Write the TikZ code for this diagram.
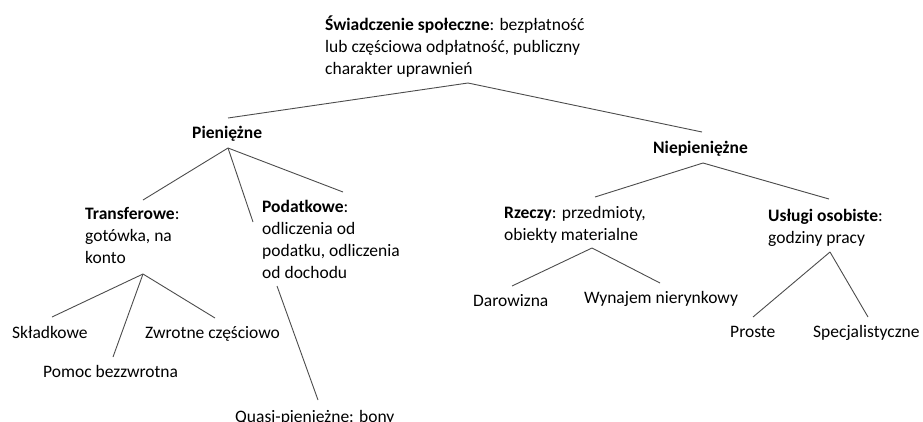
\documentclass[tikz,border=0pt]{standalone}
\usepackage{fontspec}
\setmainfont{Carlito}
\begin{document}
\begin{tikzpicture}[x=1pt,y=-1pt,
  txt/.style={inner sep=0pt, anchor=base west, font=\fontsize{17.5}{22}\selectfont},
  link/.style={draw=black!70, line width=0.9pt}]
\useasboundingbox (0,0) rectangle (923,421);

% nodes
\node[txt] (root) at (325,30) {\begin{tabular}[t]{@{}l@{}}\textbf{Świadczenie społeczne}: bezpłatność\\ lub częściowa odpłatność, publiczny\\ charakter uprawnień\end{tabular}};
\node[txt] (pien) at (192,138) {\textbf{Pieniężne}};
\node[txt] (niep) at (653,153) {\textbf{Niepieniężne}};
\node[txt] (trans) at (85,219) {\begin{tabular}[t]{@{}l@{}}\textbf{Transferowe}:\\ gotówka, na\\ konto\end{tabular}};
\node[txt] (podat) at (262,212) {\begin{tabular}[t]{@{}l@{}}\textbf{Podatkowe}:\\ odliczenia od\\ podatku, odliczenia\\ od dochodu\end{tabular}};
\node[txt] (skl) at (12,338) {Składkowe};
\node[txt] (zwr) at (145,338) {Zwrotne częściowo};
\node[txt] (pom) at (43,377) {Pomoc bezzwrotna};
\node[txt] (quasi) at (235,422) {Quasi-pieniężne: bony};
\node[txt] (rzecz) at (504,218) {\begin{tabular}[t]{@{}l@{}}\textbf{Rzeczy}: przedmioty,\\ obiekty materialne\end{tabular}};
\node[txt] (uslugi) at (768,221) {\begin{tabular}[t]{@{}l@{}}\textbf{Usługi osobiste}:\\ godziny pracy\end{tabular}};
\node[txt] (dar) at (473,306) {Darowizna};
\node[txt] (wyn) at (584,303) {Wynajem nierynkowy};
\node[txt] (pro) at (730,337) {Proste};
\node[txt] (spec) at (813,337) {Specjalistyczne};

% connector end points
\coordinate (rootA) at (468,83);
\coordinate (pienT) at (228,118);
\coordinate (niepT) at (702,132);
\coordinate (pienA) at (228,148);
\coordinate (transT) at (143,200);
\coordinate (podatT) at (253,222);
\coordinate (podatR) at (343,192);
\coordinate (transA) at (143,274);
\coordinate (sklT) at (52,317);
\coordinate (pomT) at (113,357);
\coordinate (zwrT) at (215,318);
\coordinate (podatA) at (277,286);
\coordinate (quasiT) at (318,400);
\coordinate (niepA) at (703,163);
\coordinate (rzeczT) at (595,197);
\coordinate (uslugiT) at (829,199);
\coordinate (rzeczA) at (592,248);
\coordinate (darT) at (512,286);
\coordinate (wynT) at (660,283);
\coordinate (uslugiA) at (830,252);
\coordinate (proT) at (753,317);
\coordinate (specT) at (868,317);

% connectors
\draw[link] (pienT) -- (rootA) -- (niepT);
\draw[link] (pienA) -- (transT);
\draw[link] (pienA) -- (podatT);
\draw[link] (pienA) -- (podatR);
\draw[link] (transA) -- (sklT);
\draw[link] (transA) -- (pomT);
\draw[link] (transA) -- (zwrT);
\draw[link] (podatA) -- (quasiT);
\draw[link] (niepA) -- (rzeczT);
\draw[link] (niepA) -- (uslugiT);
\draw[link] (rzeczA) -- (darT);
\draw[link] (rzeczA) -- (wynT);
\draw[link] (uslugiA) -- (proT);
\draw[link] (uslugiA) -- (specT);
\end{tikzpicture}
\end{document}
